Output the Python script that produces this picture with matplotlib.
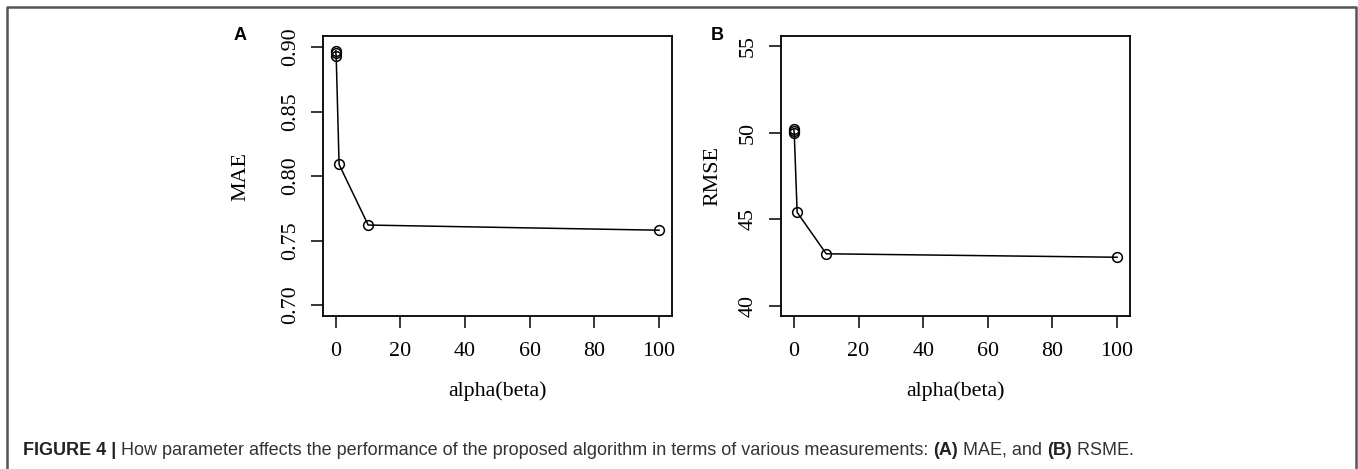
import matplotlib
matplotlib.use("Agg")
import matplotlib.pyplot as plt

# parameter values (alpha = beta)
alpha = [0.001, 0.01, 0.1, 1, 10, 100]
mae = [0.897, 0.895, 0.893, 0.809, 0.762, 0.758]
rmse = [50.2, 50.1, 50.0, 45.4, 43.0, 42.8]

x_ticks = [0, 20, 40, 60, 80, 100]
mae_ticks = [0.70, 0.75, 0.80, 0.85, 0.90]
rmse_ticks = [40, 45, 50, 55]

SERIF = "Liberation Serif"
SANS = "Liberation Sans"
FS = 15.8

fig = plt.figure(figsize=(13.58, 4.69), dpi=100)

# outer frame of the figure (top, left, right)
fig.add_artist(plt.Line2D([0.0055, 0.0055, 0.9985, 0.9985],
                          [0.0, 0.985, 0.985, 0.0],
                          transform=fig.transFigure, color="#555555", lw=1.8))


def panel(rect, y, yticks, ylabs, ylim, ylabel, ylab_x, letter, letter_x):
    ax = fig.add_axes(rect)
    ax.plot(alpha, y, color="black", lw=1.1, marker="o", ms=7,
            mfc="none", mec="black", mew=1.1)
    ax.set_xlim(-4, 104)
    ax.set_ylim(*ylim)
    ax.set_xticks(x_ticks)
    ax.set_yticks(yticks)
    ax.set_xticklabels([str(t) for t in x_ticks], fontfamily=SERIF, fontsize=FS)
    ax.set_yticklabels(ylabs, fontfamily=SERIF, fontsize=FS, rotation=90, va="center")
    ax.tick_params(direction="out", length=8.5, width=1.1, colors="black")
    ax.tick_params(axis="x", pad=10)
    ax.tick_params(axis="y", pad=8)
    for s in ax.spines.values():
        s.set_linewidth(1.3)
    ax.set_xlabel("alpha(beta)", fontfamily=SERIF, fontsize=FS)
    ax.xaxis.set_label_coords(0.5, -0.232)
    ax.set_ylabel(ylabel, fontfamily=SERIF, fontsize=FS)
    ax.yaxis.set_label_coords(ylab_x, 0.5)
    fig.text(letter_x, 0.925, letter, fontfamily=SANS, fontweight="bold",
             fontsize=13, ha="center", va="center")
    return ax


ax1 = panel([0.2378, 0.3262, 0.2570, 0.5970], mae, mae_ticks,
            [f"{t:.2f}" for t in mae_ticks], (0.6915, 0.9085),
            "MAE", -0.209, "A", 240 / 1358)
ax2 = panel([0.5751, 0.3262, 0.2570, 0.5970], rmse, rmse_ticks,
            [str(t) for t in rmse_ticks], (39.4, 55.6),
            "RMSE", -0.169, "B", 717 / 1358)

# caption, with the bold parts chained one after another
pieces = [("FIGURE 4 |", "bold"),
          (" How parameter affects the performance of the proposed algorithm"
           " in terms of various measurements: ", "normal"),
          ("(A)", "bold"), (" MAE, and ", "normal"), ("(B)", "bold"), (" RSME.", "normal")]
CAP_FS = 13
anchor = fig.text(23 / 1358, 1 - 450 / 469, pieces[0][0], fontfamily=SANS,
                  fontweight="bold", fontsize=CAP_FS, color="#222222",
                  va="center", ha="left")
for txt, w in pieces[1:]:
    anchor = ax1.annotate(txt, xy=(1, 0), xycoords=anchor, va="bottom", ha="left",
                          fontfamily=SANS, fontweight=w, fontsize=CAP_FS,
                          color="#222222" if w == "bold" else "#333333",
                          annotation_clip=False)

fig.savefig("out.png", dpi=100)
